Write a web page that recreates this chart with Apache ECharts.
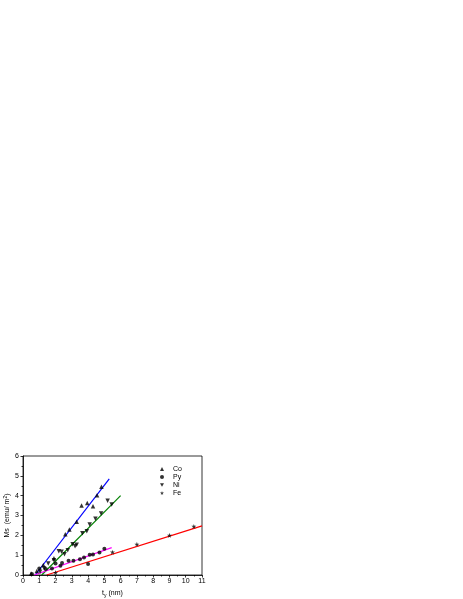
<!DOCTYPE html>
<html>
<head>
<meta charset="utf-8">
<script src="https://cdn.jsdelivr.net/npm/echarts@6/dist/echarts.min.js"></script>
<style>html,body{margin:0;padding:0;background:#fff;}#c{width:463px;height:599px;}</style>
</head>
<body>
<div id="c"></div>
<script>
var xTicks = [0,1,2,3,4,5,6,7,8,9,10,11];
var yTicks = [0,1,2,3,4,5,6];
var coData = [[0.5,0.08],[0.85,0.2],[1.25,0.5],[1.9,0.85],[2.6,2.05],[2.85,2.3],[3.3,2.68],[3.6,3.5],[3.95,3.63],[4.3,3.47],[4.55,4.02],[4.82,4.45]];
var pyData = [[0.55,0.05],[1.0,0.33],[1.4,0.3],[1.78,0.33],[2.0,0.58],[2.3,0.47],[2.4,0.6],[2.8,0.72],[3.1,0.72],[3.5,0.8],[3.75,0.88],[4.0,0.55],[4.1,1.02],[4.3,1.03],[4.7,1.13],[5.0,1.32]];
var niData = [[1.05,0.17],[1.3,0.33],[1.55,0.58],[1.9,0.75],[2.2,1.2],[2.37,1.17],[2.55,1.05],[2.75,1.25],[3.05,1.55],[3.2,1.45],[3.3,1.52],[3.65,2.1],[3.92,2.2],[4.1,2.55],[4.45,2.83],[4.8,3.1],[5.2,3.75],[5.45,3.55]];
var feData = [[2.0,0.12],[5.5,1.15],[7.0,1.55],[9.0,2.0],[10.5,2.45]];
var coFit = [[0.75,0],[5.3,4.85]];
var niFit = [[1.15,0],[6.0,4.0]];
var pyFit = [[0.7,0],[5.45,1.38]];
var feFit = [[1.45,0],[11,2.48]];

var star = 'path://M50,0 L61,35 L98,35 L68,57 L79,91 L50,70 L21,91 L32,57 L2,35 L39,35 Z';
var font = 'Liberation Sans, Arial, sans-serif';
var chart = echarts.init(document.getElementById('c'));
function fit(name, d, color){
  return {name:name, type:'line', data:d, symbol:'none', silent:true,
    lineStyle:{color:color, width:1.2}, z:2};
}
function pts(name, d, sym, size, rot){
  return {name:name, type:'scatter', data:d, symbol:sym, symbolSize:size, symbolRotate:rot||0,
    itemStyle:{color:'#000'}, z:3};
}
chart.setOption({
  animation:false,
  backgroundColor:'#fff',
  grid:{left:23, top:456, right:261, bottom:23, show:true, borderColor:'#000', borderWidth:0.8, backgroundColor:'transparent'},
  legend:{
    data:[{name:'Co',icon:'triangle'},{name:'Py',icon:'circle'},{name:'Ni',icon:'path://M0,0 L100,0 L50,90 Z'},{name:'Fe',icon:star}],
    orient:'vertical', left:155, top:460, itemWidth:4, itemHeight:4, itemGap:0,
    textStyle:{fontFamily:font, fontSize:7, color:'#000', padding:[0,0,0,4], lineHeight:8},
    itemStyle:{color:'#000'}
  },
  xAxis:{type:'value', min:0, max:11, interval:1,
    axisLine:{lineStyle:{color:'#000', width:0.8}},
    axisTick:{show:true, length:2.5, lineStyle:{color:'#000', width:0.8}},
    minorTick:{show:true, splitNumber:2, length:1.5, lineStyle:{color:'#000', width:0.8}},
    splitLine:{show:false},
    axisLabel:{fontFamily:font, fontSize:7, color:'#000', margin:3,
      formatter:function(v){return xTicks.indexOf(v)>=0 ? String(v) : '';}},
    name:'{t|t}{s|y}{t| (nm)}', nameLocation:'middle', nameGap:14,
    nameTextStyle:{rich:{t:{fontFamily:font, fontSize:7, color:'#000'}, s:{fontFamily:font, fontSize:5, color:'#000', verticalAlign:'bottom', padding:[4,0,0,0]}}}
  },
  yAxis:{type:'value', min:0, max:6, interval:1,
    axisLine:{lineStyle:{color:'#000', width:0.8}},
    axisTick:{show:true, length:2.5, lineStyle:{color:'#000', width:0.8}},
    minorTick:{show:true, splitNumber:2, length:1.5, lineStyle:{color:'#000', width:0.8}},
    splitLine:{show:false},
    axisLabel:{fontFamily:font, fontSize:7, color:'#000', margin:4,
      formatter:function(v){return yTicks.indexOf(v)>=0 ? String(v) : '';}},
    name:'{t|Ms  (emu/ m}{s|2}{t|)}', nameLocation:'middle', nameGap:11,
    nameTextStyle:{rich:{t:{fontFamily:font, fontSize:7, color:'#000'}, s:{fontFamily:font, fontSize:5, color:'#000', verticalAlign:'top', padding:[0,0,4,0]}}}
  },
  series:[
    fit('coFit', coFit, '#0000ff'),
    fit('niFit', niFit, '#008000'),
    fit('pyFit', pyFit, '#ff00ff'),
    fit('feFit', feFit, '#ff0000'),
    pts('Co', coData, 'triangle', 4.5),
    pts('Py', pyData, 'circle', 4),
    pts('Ni', niData, 'triangle', 4.5, 180),
    pts('Fe', feData, star, 5)
  ]
});
</script>
</body>
</html>
